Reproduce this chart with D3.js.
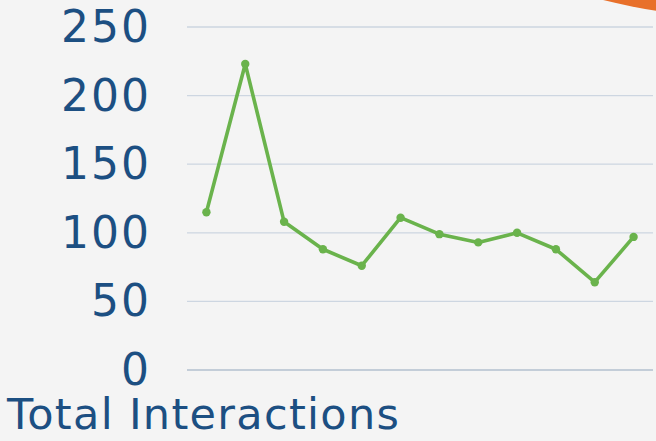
<!DOCTYPE html>
<html>
<head>
  <script src="https://d3js.org/d3.v7.min.js"></script>
  <style>
    body { margin: 0; background: #f4f4f4; }
  </style>
</head>
<body>
<script>
  var w = 656;
  var h = 441;

  // data
  var months = ["1","2","3","4","5","6","7","8","9","10","11","12"];
  var interactions = [115, 223, 108, 88, 76, 111, 99, 93, 100, 88, 64, 97];
  var yTicks = [0, 50, 100, 150, 200, 250];

  var svg = d3.select("body").append("svg")
    .attr("width", w)
    .attr("height", h)
    .style("display", "block");

  svg.append("rect").attr("width", w).attr("height", h).attr("fill", "#f4f4f4");

  // orange corner shape
  svg.append("circle")
    .attr("cx", 760).attr("cy", -638).attr("r", 657)
    .attr("fill", "#e8702a");

  var x = d3.scaleBand().domain(months).range([187, 653]);
  var y = d3.scaleLinear().domain([0, 250]).range([370, 27]);

  // gridlines
  svg.selectAll(".grid")
    .data(yTicks)
    .enter()
    .append("line")
    .attr("x1", 187).attr("x2", 653)
    .attr("y1", function(d){ return y(d); })
    .attr("y2", function(d){ return y(d); })
    .attr("stroke", function(d){ return d === 0 ? "#b3c0cf" : "#cdd6e1"; })
    .attr("stroke-width", 1.3);

  // y labels
  svg.selectAll(".ylab")
    .data(yTicks)
    .enter()
    .append("text")
    .attr("x", 151)
    .attr("y", function(d){ return y(d) + 15; })
    .attr("text-anchor", "end")
    .attr("fill", "#1c4f82")
    .style("font-family", "DejaVu Sans")
    .style("font-size", "44px")
    .style("letter-spacing", "2px")
    .text(function(d){ return d; });

  var line = d3.line()
    .x(function(d, i){ return x(months[i]) + x.bandwidth() / 2; })
    .y(function(d){ return y(d); });

  svg.append("path")
    .datum(interactions)
    .attr("d", line)
    .attr("fill", "none")
    .attr("stroke", "#6ab34c")
    .attr("stroke-width", 3.6)
    .attr("stroke-linejoin", "round");

  svg.selectAll(".dot")
    .data(interactions)
    .enter()
    .append("circle")
    .attr("cx", function(d, i){ return x(months[i]) + x.bandwidth() / 2; })
    .attr("cy", function(d){ return y(d); })
    .attr("r", 4.2)
    .attr("fill", "#6ab34c");

  svg.append("text")
    .attr("x", 7)
    .attr("y", 429)
    .attr("fill", "#1c4f82")
    .style("font-family", "DejaVu Sans")
    .style("font-size", "43px")
    .style("letter-spacing", "1.3px")
    .text("Total Interactions");
</script>
</body>
</html>
